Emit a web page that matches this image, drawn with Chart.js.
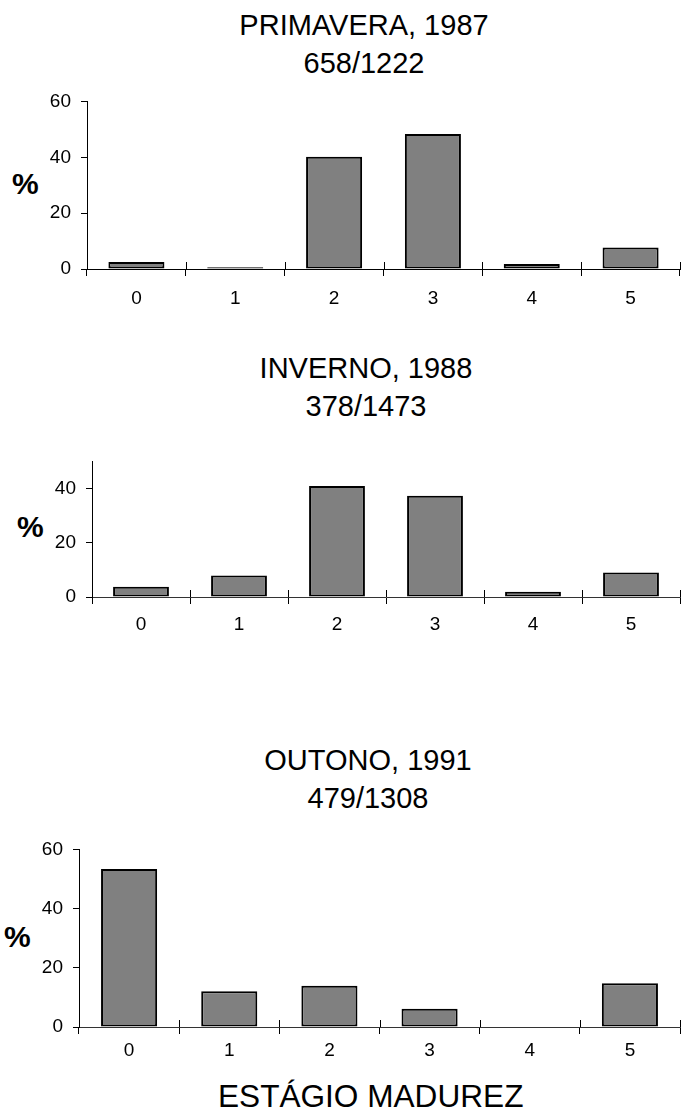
<!DOCTYPE html>
<html>
<head>
<meta charset="utf-8">
<script src="https://cdn.jsdelivr.net/npm/chart.js@4.4.1/dist/chart.umd.min.js"></script>
<style>
body { margin: 0; background: #fff; width: 681px; height: 1116px; position: relative; overflow: hidden;
       font-family: "Liberation Sans", Arial, sans-serif; color: #000; }
.box { position: absolute; left: 0; width: 681px; }
.title { position: absolute; text-align: center; font-size: 29px; line-height: 38px; white-space: nowrap; }
.pct { position: absolute; font-size: 30px; font-weight: bold; line-height: 30px; }
.xtitle { position: absolute; font-size: 31.6px; line-height: 31px; white-space: nowrap; }
</style>
</head>
<body>

<div class="title" style="left:0;width:728px;top:6px">PRIMAVERA, 1987<br>658/1222</div>
<div class="pct" style="left:12px;top:169px">%</div>
<div class="box" style="top:80px;height:234px"><canvas id="c1987" width="681" height="234"></canvas></div>

<div class="title" style="left:0;width:732px;top:349px">INVERNO, 1988<br>378/1473</div>
<div class="pct" style="left:17px;top:512px">%</div>
<div class="box" style="top:440px;height:202px"><canvas id="c1988" width="681" height="202"></canvas></div>

<div class="title" style="left:0;width:736px;top:741px">OUTONO, 1991<br>479/1308</div>
<div class="pct" style="left:4px;top:922px">%</div>
<div class="box" style="top:828px;height:244px"><canvas id="c1991" width="681" height="244"></canvas></div>

<div class="xtitle" style="left:218px;top:1081px">ESTÁGIO MADUREZ</div>

<script>
// estágios de maturidade (eixo x)
const stages = ['0', '1', '2', '3', '4', '5'];

// % por estágio
const primavera1987 = [2.5, 0.6, 40.2, 48.3, 1.8, 7.7];
const inverno1988 = [3.8, 7.9, 40.9, 37.3, 1.9, 9.0];
const outono1991 = [53.4, 12.1, 13.9, 6.2, 0, 14.8];

// máximo do eixo y de cada painel, ticks de 20 em 20
const yMax1987 = 60;
const yMax1988 = 50;
const yMax1991 = 60;
const yStep = 20;

const FONT = "'Liberation Sans', Arial, sans-serif";

// marca o tick do eixo x também para cima (cruz)
const crossTicks = {
    id: 'crossTicks',
    afterDraw(chart) {
        const x = chart.scales.x;
        const ctx = chart.ctx;
        const n = chart.data.labels.length;
        ctx.save();
        ctx.strokeStyle = '#000';
        ctx.lineWidth = 1;
        ctx.beginPath();
        for (let i = 0; i <= n; i++) {
            const px = Math.round(x.left + i * x.width / n) + 0.5;
            ctx.moveTo(px, x.top - 7);
            ctx.lineTo(px, x.top);
        }
        ctx.stroke();
        ctx.restore();
    }
};

function painel(id, values, cfg) {
    const ctx = document.getElementById(id).getContext('2d');
    return new Chart(ctx, {
        type: 'bar',
        data: {
            labels: stages,
            datasets: [{
                data: values,
                backgroundColor: '#808080',
                borderColor: '#000',
                borderWidth: 2,
                borderSkipped: false,
                barPercentage: cfg.barPct,
                categoryPercentage: 1
            }]
        },
        options: {
            responsive: false,
            animation: false,
            devicePixelRatio: 1,
            layout: { padding: { top: cfg.padTop, right: 1, left: 0, bottom: 0 } },
            plugins: { legend: { display: false }, tooltip: { enabled: false } },
            scales: {
                x: {
                    offset: true,
                    grid: { offset: true, drawOnChartArea: false, tickLength: 7, color: '#000' },
                    border: { color: cfg.xAxisColor, width: 1 },
                    ticks: { color: '#000', padding: cfg.labelPad, font: { family: FONT, size: 19 } },
                    afterFit: s => { s.height = 45; }
                },
                y: {
                    min: 0,
                    max: cfg.yMax,
                    grid: { drawOnChartArea: false, tickLength: 6, color: '#000' },
                    border: { color: '#000', width: 1 },
                    ticks: { stepSize: yStep, color: '#000', padding: 10, font: { family: FONT, size: 19 } },
                    afterBuildTicks: s => { s.ticks = s.ticks.filter(t => t.value % yStep === 0); },
                    afterFit: s => { s.width = cfg.axisX; }
                }
            }
        },
        plugins: [crossTicks]
    });
}

painel('c1987', primavera1987, { yMax: yMax1987, axisX: 87, padTop: 16, labelPad: 11, barPct: 0.567, xAxisColor: '#000' });
painel('c1988', inverno1988, { yMax: yMax1988, axisX: 92, padTop: 17, labelPad: 9, barPct: 0.57, xAxisColor: '#333' });
painel('c1991', outono1991, { yMax: yMax1991, axisX: 79, padTop: 17, labelPad: 5, barPct: 0.56, xAxisColor: '#333' });
</script>
</body>
</html>
